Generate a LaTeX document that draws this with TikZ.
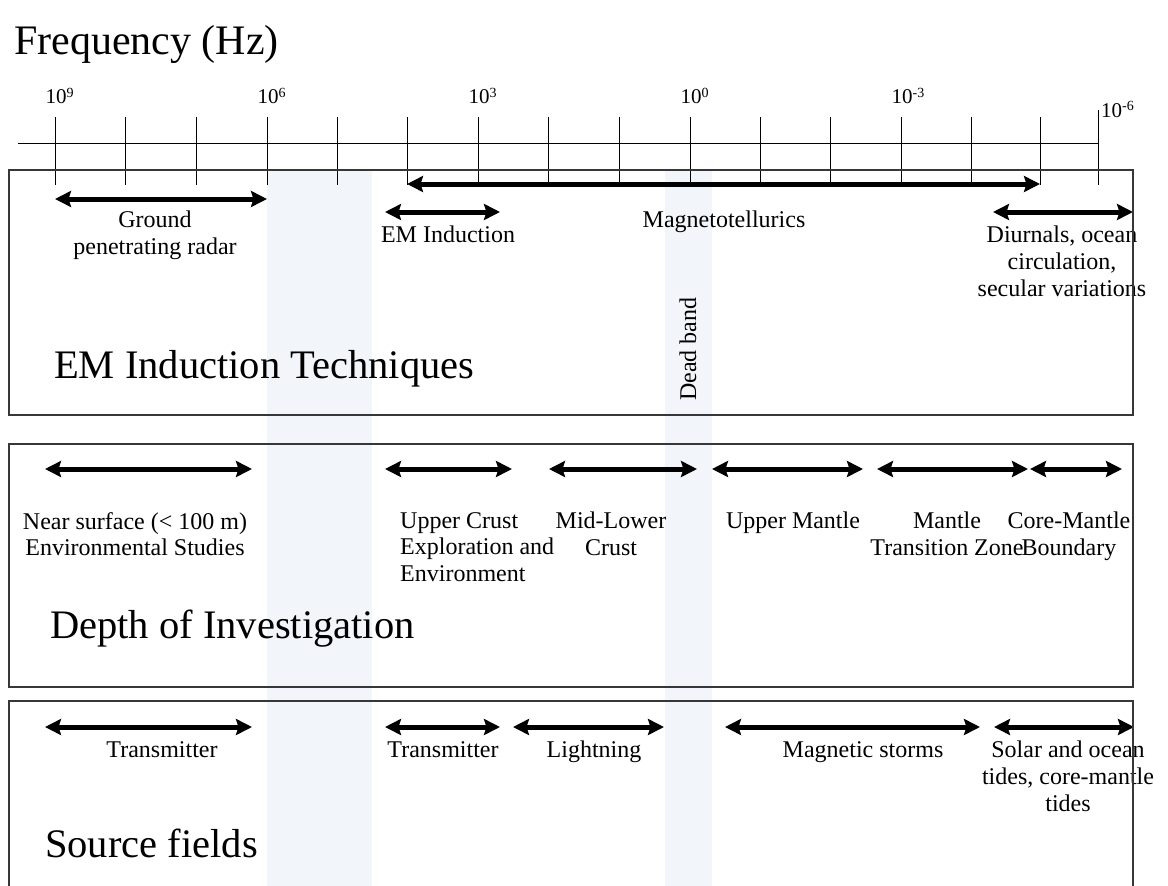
\documentclass[tikz,border=0pt]{standalone}
\usepackage{fontspec}
\setmainfont{Liberation Serif}
\usetikzlibrary{arrows.meta}
\definecolor{bandcol}{RGB}{242,245,249}
\definecolor{boxcol}{RGB}{55,55,55}
\newcommand{\tkl}[1]{10\raisebox{6.5pt}{\fontsize{14}{14}\selectfont #1}}
\begin{document}
\begin{tikzpicture}[x=1pt,y=-1pt,
  lbl/.style={font=\fontsize{24}{26.7}\selectfont, align=center, inner sep=0pt, anchor=north},
  big/.style={font=\fontsize{40.5}{44}\selectfont, anchor=base west, inner sep=0pt},
  tlbl/.style={font=\fontsize{21}{22}\selectfont, inner sep=0pt, anchor=base west},
  spanarrow/.style={line width=5pt, {Stealth[length=16pt,width=16pt,inset=2.5pt]}-{Stealth[length=16pt,width=16pt,inset=2.5pt]}},
  panel/.style={draw=boxcol, line width=1.5pt},
  band/.style={fill=bandcol, draw=none},
  axisline/.style={draw=black, line width=0.9pt}
]
\useasboundingbox (0,0) rectangle (1168,886);

% shaded bands
\fill[band] (267,170) rectangle (372,886);
\fill[band] (665,170) rectangle (712,886);

% title
\node[big, font=\fontsize{42}{46}\selectfont] (title) at (14,54) {Frequency (Hz)};

% axis
\draw[axisline] (18,143) -- (1098,143);
\foreach \x in {55,125.5,196,267,337,407,478,548,619,690,760,830,901,971,1040} {
  \draw[axisline] (\x,117) -- (\x,185);
}
\draw[axisline] (1098,110) -- (1098,185);

% tick labels
\node[tlbl] (t9) at (45.5,103.5) {\tkl{9}};
\node[tlbl] (t6) at (257.5,103.5) {\tkl{6}};
\node[tlbl] (t3) at (468.5,103.5) {\tkl{3}};
\node[tlbl] (t0) at (680.5,103.5) {\tkl{0}};
\node[tlbl] (tm3) at (891.5,103.5) {\tkl{-3}};
\node[tlbl] (tm6) at (1101,117) {\tkl{-6}};

% ---- Panel 1: EM Induction Techniques
\coordinate (gprL) at (55,199);   \coordinate (gprR) at (267,199);
\coordinate (mtL) at (407,184);   \coordinate (mtR) at (1040,184);
\coordinate (emiL) at (385,212);  \coordinate (emiR) at (500,212);
\coordinate (diuL) at (993,212);  \coordinate (diuR) at (1133,212);
\draw[spanarrow] (gprL) -- (gprR);
\draw[spanarrow] (mtL) -- (mtR);
\draw[spanarrow] (emiL) -- (emiR);
\draw[spanarrow] (diuL) -- (diuR);
\node[lbl] (gpr) at (155,211) {Ground\\penetrating radar};
\node[lbl] (emi) at (448,226) {EM Induction};
\node[lbl] (mt) at (724,211) {Magnetotellurics};
\node[lbl] (diu) at (1062,226) {Diurnals, ocean\\circulation,\\secular variations};
\node[font=\fontsize{24}{26}\selectfont, inner sep=0pt, rotate=90] (dead) at (688,349) {Dead band};
\node[big] (p1) at (54,378) {EM Induction Techniques};

% ---- Panel 2: Depth of Investigation
\coordinate (d1L) at (45,469);  \coordinate (d1R) at (252,469);
\coordinate (d2L) at (385,469); \coordinate (d2R) at (512,469);
\coordinate (d3L) at (549,469); \coordinate (d3R) at (697,469);
\coordinate (d4L) at (712,469); \coordinate (d4R) at (863,469);
\coordinate (d5L) at (877,469); \coordinate (d5R) at (1028,469);
\coordinate (d6L) at (1030,469);\coordinate (d6R) at (1122,469);
\foreach \i in {1,...,6} { \draw[spanarrow] (d\i L) -- (d\i R); }
\node[lbl] (near) at (135,512) {Near surface (< 100 m)\\Environmental Studies};
\node[lbl, align=left, anchor=north west] (uc) at (400,512) {Upper Crust\\Exploration and\\Environment};
\node[lbl] (mlc) at (611,512) {Mid-Lower\\Crust};
\node[lbl] (um) at (793,512) {Upper Mantle};
\node[lbl] (mtz) at (947,512) {Mantle\\Transition Zone};
\node[lbl] (cmb) at (1069,512) {Core-Mantle\\Boundary};
\node[big] (p2) at (50,638) {Depth of Investigation};

% ---- Panel 3: Source fields
\coordinate (s1L) at (45,727);  \coordinate (s1R) at (252,727);
\coordinate (s2L) at (385,727); \coordinate (s2R) at (500,727);
\coordinate (s3L) at (513,727); \coordinate (s3R) at (664,727);
\coordinate (s4L) at (725,727); \coordinate (s4R) at (980,727);
\coordinate (s5L) at (994,727); \coordinate (s5R) at (1134,727);
\foreach \i in {1,...,5} { \draw[spanarrow] (s\i L) -- (s\i R); }
\node[lbl] (tx1) at (162,741) {Transmitter};
\node[lbl] (tx2) at (443,741) {Transmitter};
\node[lbl] (lig) at (594,741) {Lightning};
\node[lbl] (ms) at (863,741) {Magnetic storms};
\node[lbl] (sol) at (1068,741) {Solar and ocean\\tides, core-mantle\\tides};
\node[big] (p3) at (45,857) {Source fields};

% panels
\draw[panel] (9,170) rectangle (1133,415);
\draw[panel] (9,444) rectangle (1133,687);
\draw[panel] (9,886) -- (9,701) -- (1133,701) -- (1133,886);
\end{tikzpicture}
\end{document}
